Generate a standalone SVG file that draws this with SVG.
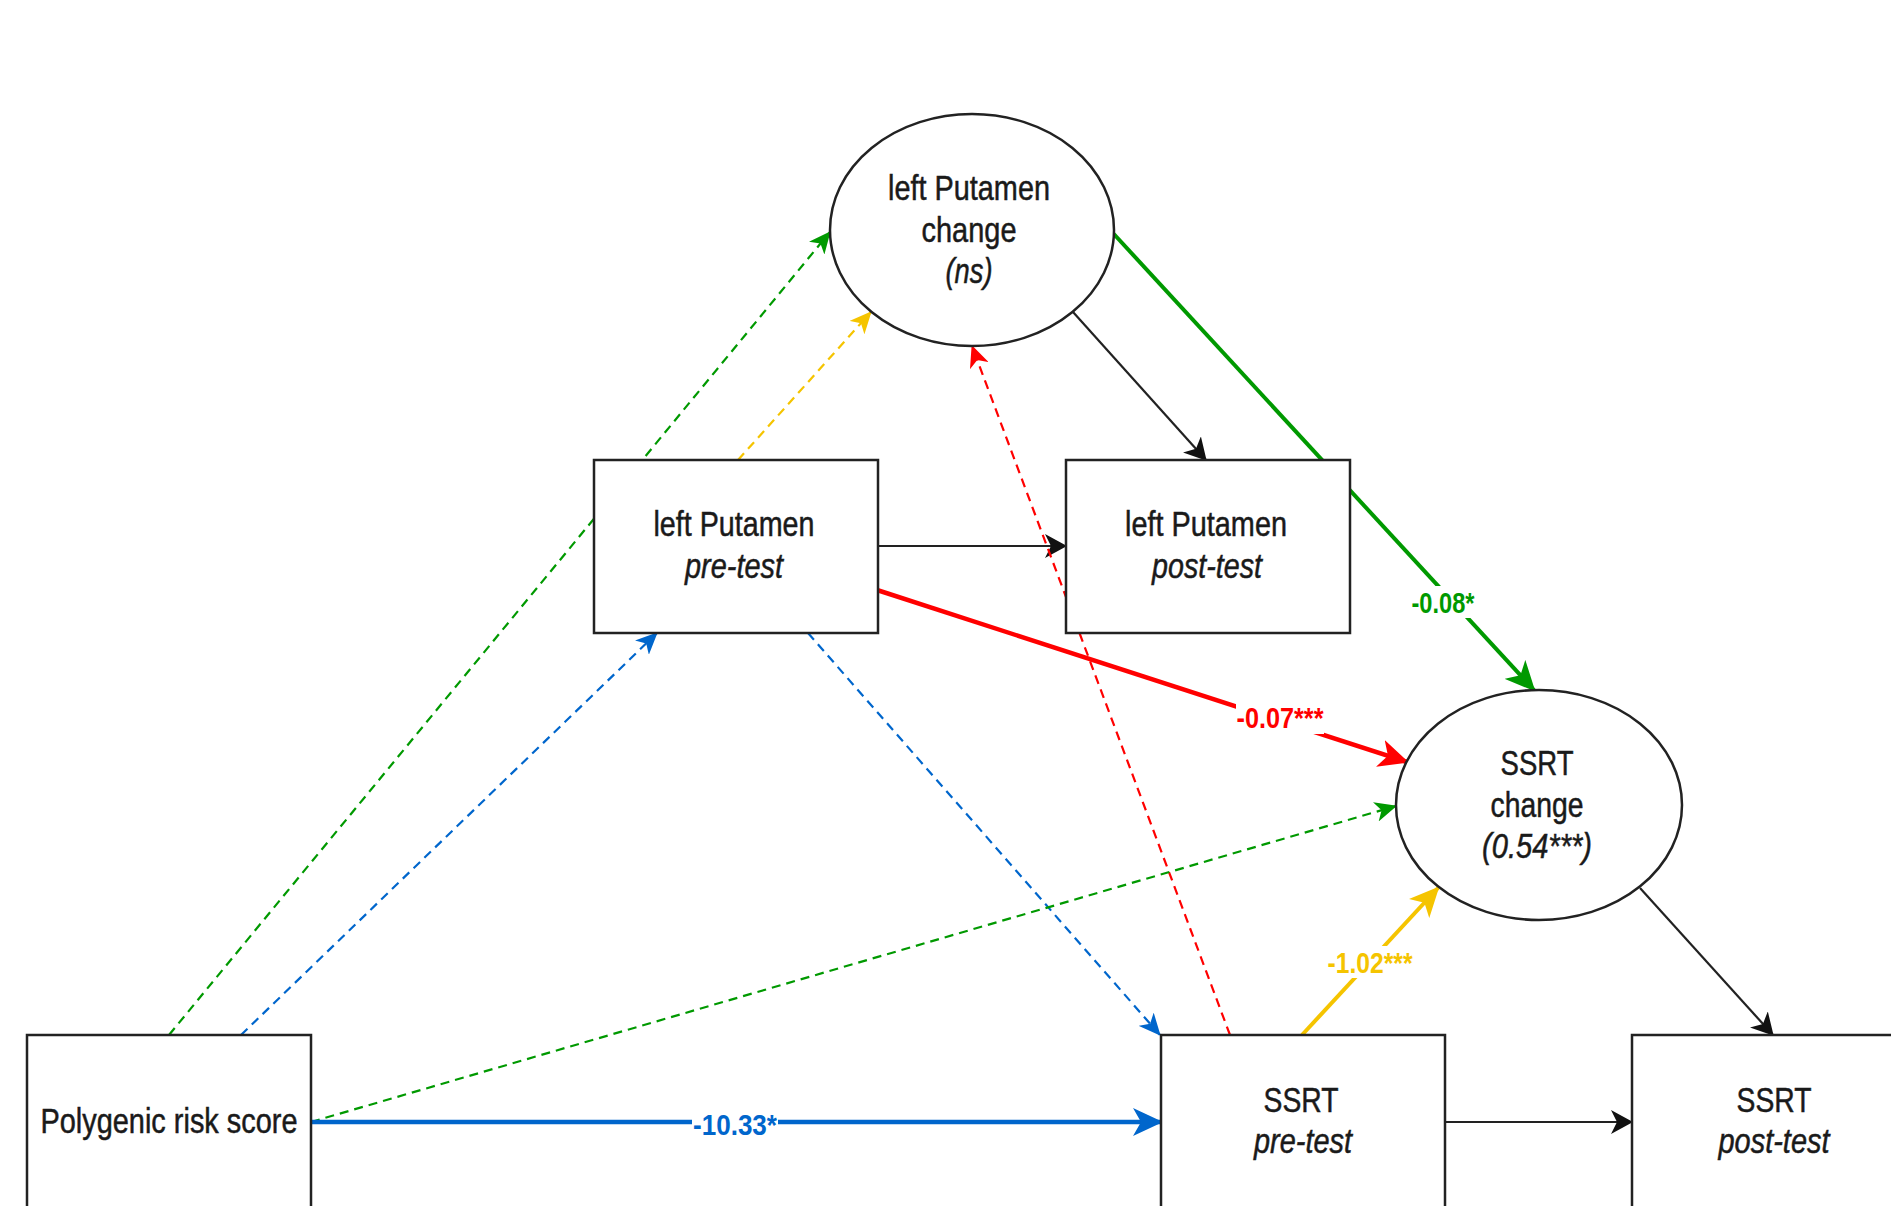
<svg xmlns="http://www.w3.org/2000/svg" width="1891" height="1206" viewBox="0 0 1891 1206">
<style>
.node{fill:#fff;stroke:#222;stroke-width:2.5}
.t{font-family:"Liberation Sans",Arial,sans-serif;font-size:35px;fill:#1a1a1a;stroke:#1a1a1a;stroke-width:0.5;text-anchor:middle}
.i{font-style:italic}
.lab{font-family:"Liberation Sans",Arial,sans-serif;font-size:30px;font-weight:bold;text-anchor:middle}
.c{fill:none}
.blk{stroke:#222;stroke-width:2.2}
.dash{stroke-width:2.2;stroke-dasharray:9 6}
</style>
<defs>
<marker id="mBlk" viewBox="0 0 22 24" markerWidth="22" markerHeight="24" refX="21" refY="12" orient="auto" markerUnits="userSpaceOnUse"><path d="M0,0 L22,12 L0,24 L6,12 z" fill="#111"/></marker>
<marker id="mGd" viewBox="0 0 22 20" markerWidth="22" markerHeight="20" refX="21" refY="10" orient="auto" markerUnits="userSpaceOnUse"><path d="M0,0 L22,10 L0,20 L6,10 z" fill="#009900"/></marker>
<marker id="mBd" viewBox="0 0 22 20" markerWidth="22" markerHeight="20" refX="21" refY="10" orient="auto" markerUnits="userSpaceOnUse"><path d="M0,0 L22,10 L0,20 L6,10 z" fill="#0066CC"/></marker>
<marker id="mRd" viewBox="0 0 22 20" markerWidth="22" markerHeight="20" refX="21" refY="10" orient="auto" markerUnits="userSpaceOnUse"><path d="M0,0 L22,10 L0,20 L6,10 z" fill="#FF0000"/></marker>
<marker id="mYd" viewBox="0 0 22 20" markerWidth="22" markerHeight="20" refX="21" refY="10" orient="auto" markerUnits="userSpaceOnUse"><path d="M0,0 L22,10 L0,20 L6,10 z" fill="#F5C400"/></marker>
<marker id="mG" viewBox="0 0 30 28" markerWidth="30" markerHeight="28" refX="28" refY="14" orient="auto" markerUnits="userSpaceOnUse"><path d="M0,0 L30,14 L0,28 L8,14 z" fill="#009900"/></marker>
<marker id="mR" viewBox="0 0 30 28" markerWidth="30" markerHeight="28" refX="28" refY="14" orient="auto" markerUnits="userSpaceOnUse"><path d="M0,0 L30,14 L0,28 L8,14 z" fill="#FF0000"/></marker>
<marker id="mB" viewBox="0 0 30 28" markerWidth="30" markerHeight="28" refX="28" refY="14" orient="auto" markerUnits="userSpaceOnUse"><path d="M0,0 L30,14 L0,28 L8,14 z" fill="#0066CC"/></marker>
<marker id="mY" viewBox="0 0 30 28" markerWidth="30" markerHeight="28" refX="28" refY="14" orient="auto" markerUnits="userSpaceOnUse"><path d="M0,0 L30,14 L0,28 L8,14 z" fill="#F5C400"/></marker>
</defs>
<rect width="1891" height="1206" fill="#fff"/>
<g id="connectors">
  <path class="c blk" d="M877,546 L1066,546" marker-end="url(#mBlk)"/>
  <path class="c blk" d="M1073,312 L1206,460" marker-end="url(#mBlk)"/>
  <path class="c blk" d="M1640,888 L1773,1035" marker-end="url(#mBlk)"/>
  <path class="c blk" d="M1444,1122 L1632,1122" marker-end="url(#mBlk)"/>
  <path class="c dash" stroke="#FF0000" d="M1230,1035 L972,346" marker-end="url(#mRd)"/>
  <path class="c dash" stroke="#F5C400" d="M738,460 L871,312" marker-end="url(#mYd)"/>
  <path class="c dash" stroke="#009900" d="M169,1035 L830,232" marker-end="url(#mGd)"/>
  <path class="c dash" stroke="#0066CC" d="M241,1035 L657,633" marker-end="url(#mBd)"/>
  <path class="c dash" stroke="#0066CC" d="M808,633 L1160,1035" marker-end="url(#mBd)"/>
  <path class="c dash" stroke="#009900" d="M311,1122 L1396,806" marker-end="url(#mGd)"/>
  <path class="c" stroke="#009900" stroke-width="4" d="M1112,232 L1534,690" marker-end="url(#mG)"/>
  <path class="c" stroke="#FF0000" stroke-width="4.5" d="M877,590 L1407,762" marker-end="url(#mR)"/>
  <path class="c" stroke="#0066CC" stroke-width="4.5" d="M311,1122 L1161,1122" marker-end="url(#mB)"/>
  <path class="c" stroke="#F5C400" stroke-width="4" d="M1302,1035 L1438,888" marker-end="url(#mY)"/>
  <g id="labels">
    <rect x="1410" y="586" width="66" height="32" fill="#fff"/>
    <text class="lab" x="1443" y="613" fill="#009900" textLength="63" lengthAdjust="spacingAndGlyphs">-0.08*</text>
    <rect x="1236" y="702" width="88" height="32" fill="#fff"/>
    <text class="lab" x="1280" y="728" fill="#FF0000" textLength="87" lengthAdjust="spacingAndGlyphs">-0.07***</text>
    <rect x="1327" y="946" width="88" height="32" fill="#fff"/>
    <text class="lab" x="1370" y="973" fill="#F5C400" textLength="85" lengthAdjust="spacingAndGlyphs">-1.02***</text>
    <rect x="692" y="1107" width="86" height="32" fill="#fff"/>
    <text class="lab" x="735" y="1135" fill="#0066CC" textLength="84" lengthAdjust="spacingAndGlyphs">-10.33*</text>
  </g>
</g>
<g id="lp-change">
  <ellipse class="node" cx="972" cy="230" rx="142" ry="116"/>
  <text class="t" x="969" y="200" textLength="162" lengthAdjust="spacingAndGlyphs">left Putamen</text>
  <text class="t" x="969" y="242" textLength="95" lengthAdjust="spacingAndGlyphs">change</text>
  <text class="t i" x="969" y="283" textLength="47" lengthAdjust="spacingAndGlyphs">(ns)</text>
</g>
<g id="lp-pre">
  <rect class="node" x="594" y="460" width="284" height="173"/>
  <text class="t" x="734" y="536" textLength="161" lengthAdjust="spacingAndGlyphs">left Putamen</text>
  <text class="t i" x="734" y="578" textLength="98" lengthAdjust="spacingAndGlyphs">pre-test</text>
</g>
<g id="lp-post">
  <rect class="node" x="1066" y="460" width="284" height="173"/>
  <text class="t" x="1206" y="536" textLength="162" lengthAdjust="spacingAndGlyphs">left Putamen</text>
  <text class="t i" x="1207" y="578" textLength="110" lengthAdjust="spacingAndGlyphs">post-test</text>
</g>
<g id="ssrt-change">
  <ellipse class="node" cx="1539" cy="805" rx="143" ry="115"/>
  <text class="t" x="1537" y="775" textLength="73" lengthAdjust="spacingAndGlyphs">SSRT</text>
  <text class="t" x="1537" y="817" textLength="93" lengthAdjust="spacingAndGlyphs">change</text>
  <text class="t i" x="1537" y="858" textLength="110" lengthAdjust="spacingAndGlyphs">(0.54***)</text>
</g>
<g id="prs">
  <rect class="node" x="27" y="1035" width="284" height="173"/>
  <text class="t" x="169" y="1133" textLength="257" lengthAdjust="spacingAndGlyphs">Polygenic risk score</text>
</g>
<g id="ssrt-pre">
  <rect class="node" x="1161" y="1035" width="284" height="173"/>
  <text class="t" x="1301" y="1112" textLength="75" lengthAdjust="spacingAndGlyphs">SSRT</text>
  <text class="t i" x="1303" y="1153" textLength="98" lengthAdjust="spacingAndGlyphs">pre-test</text>
</g>
<g id="ssrt-post">
  <rect class="node" x="1632" y="1035" width="284" height="173"/>
  <text class="t" x="1774" y="1112" textLength="75" lengthAdjust="spacingAndGlyphs">SSRT</text>
  <text class="t i" x="1774" y="1153" textLength="111" lengthAdjust="spacingAndGlyphs">post-test</text>
</g>
</svg>
